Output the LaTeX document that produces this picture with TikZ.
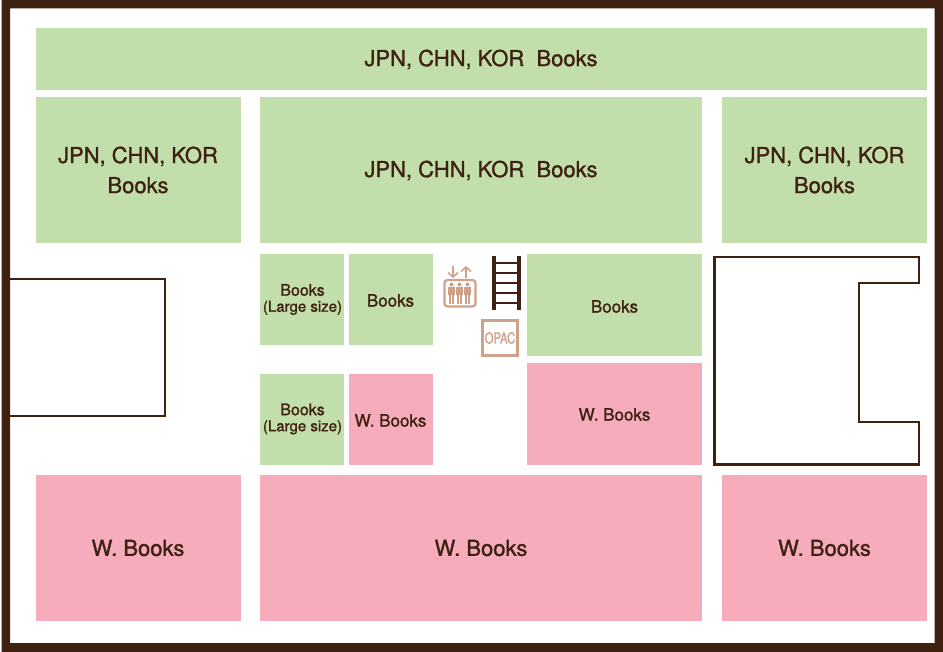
\documentclass[tikz,border=0pt]{standalone}
\usepackage{fontspec}
\setmainfont{TeX Gyre Heros}
\newfontfamily\roomfont[FakeBold=1.2]{TeX Gyre Heros}
\usetikzlibrary{calc,arrows.meta}
\definecolor{wallbrown}{RGB}{62,33,16}
\definecolor{shelfgreen}{RGB}{194,223,171}
\definecolor{shelfpink}{RGB}{246,172,186}
\definecolor{iconbrown}{RGB}{208,160,136}
\tikzset{>=latex,
  room/.style={inner sep=0pt,text=wallbrown,align=center,font=\roomfont\fontsize{22}{30}\selectfont},
  smallroom/.style={inner sep=0pt,text=wallbrown,align=center,font=\roomfont\fontsize{17}{17}\selectfont},
  largeroom/.style={inner sep=0pt,text=wallbrown,align=center,font=\roomfont\fontsize{15}{16}\selectfont},
  wall/.style={draw=wallbrown,line width=2.7pt,line join=miter},
  liftarrow/.style={draw=iconbrown,line width=1.5pt,-{Straight Barb[length=4.5pt,width=10pt]}}
}
\newcommand{\shelf}[6]{% colour, name, x1, y1, x2, y2
  \fill[#1] (#3,#4) rectangle (#5,#6);
  \coordinate (#2) at ($(#3,#4)!0.5!(#5,#6)$);
}
\begin{document}
\begin{tikzpicture}[x=1pt,y=-1pt]
  \useasboundingbox (0,0) rectangle (943,652);
  % outer wall
  \fill[wallbrown,even odd rule] (1.5,0) rectangle (943,652) (10,8.5) rectangle (934.5,643);
  % green shelves
  \shelf{shelfgreen}{topbar}{36}{28}{927}{90}
  \shelf{shelfgreen}{jckleft}{36}{97}{241}{243}
  \shelf{shelfgreen}{jckmid}{260}{97}{702}{243}
  \shelf{shelfgreen}{jckright}{722}{97}{927}{243}
  \shelf{shelfgreen}{largeup}{260}{254}{344}{345}
  \shelf{shelfgreen}{booksup}{349}{254}{433}{345}
  \shelf{shelfgreen}{booksright}{527}{254}{702}{356}
  \shelf{shelfgreen}{largelow}{260}{374}{344}{465}
  % pink shelves
  \shelf{shelfpink}{wlow}{349}{374}{433}{465}
  \shelf{shelfpink}{wright}{527}{363}{702}{465}
  \shelf{shelfpink}{wleft}{36}{475}{241}{621}
  \shelf{shelfpink}{wmid}{260}{475}{702}{621}
  \shelf{shelfpink}{wfar}{722}{475}{927}{621}
  % labels
  \node[room] (topbartext) at (481,59.5) {JPN, CHN, KOR\ \ Books};
  \node[room] (jcklefttext) at (138,170) {JPN, CHN, KOR\\Books};
  \node[room] (jckmidtext) at (481,170.5) {JPN, CHN, KOR\ \ Books};
  \node[room] (jckrighttext) at (824.5,170) {JPN, CHN, KOR\\Books};
  \node[largeroom] (largeuptext) at (302.5,299.5) {{\fontsize{16}{16}\selectfont Books}\\(Large size)};
  \node[smallroom] (booksuptext) at (390.5,300.5) {Books};
  \node[smallroom] (booksrighttext) at (614.5,306.5) {Books};
  \node[largeroom] (largelowtext) at (302.5,419) {{\fontsize{16}{16}\selectfont Books}\\(Large size)};
  \node[smallroom] (wlowtext) at (390.5,420.5) {W. Books};
  \node[smallroom] (wrighttext) at (614.5,414.5) {W. Books};
  \node[room] (wlefttext) at (138,548) {W. Books};
  \node[room] (wmidtext) at (481,548) {W. Books};
  \node[room] (wfartext) at (824.5,548) {W. Books};
  % voids
  \draw[wall] (10,279) -- (165,279) -- (165,416) -- (10,416);
  \draw[wall] (714.5,257) -- (919,257) -- (919,283) -- (859,283) -- (859,422) -- (919,422)
    -- (919,464.5) -- (714.5,464.5) -- cycle;
  % stairs
  \draw[wallbrown,line width=3.6pt] (494,256) -- (494,310) (519,256) -- (519,310);
  \foreach \y in {263,273,283,293,303}
    \draw[wallbrown,line width=2.6pt] (494,\y) -- (519,\y);
  % elevator
  \draw[draw=iconbrown,line width=2.2pt,rounded corners=3pt] (444.5,280) rectangle (475.5,306.5);
  \draw[liftarrow] (453,266) -- (453,278);
  \draw[liftarrow] (466,278) -- (466,266);
  \foreach \x in {451.5,459.5,467.5} {
    \fill[iconbrown] (\x,284.5) circle (2pt);
    \fill[iconbrown] (\x-3.6,287) rectangle (\x+3.6,295.5);
    \fill[iconbrown] (\x-2.6,295.5) rectangle (\x-0.3,304);
    \fill[iconbrown] (\x+0.3,295.5) rectangle (\x+2.6,304);
  }
  % catalogue
  \node[draw=iconbrown,line width=3pt,minimum width=35pt,minimum height=35pt,inner sep=0pt,
    text=iconbrown,font=\roomfont\fontsize{14}{14}\selectfont] (opac) at (500,338)
    {\scalebox{0.8}[1.1]{OPAC}};
\end{tikzpicture}
\end{document}
